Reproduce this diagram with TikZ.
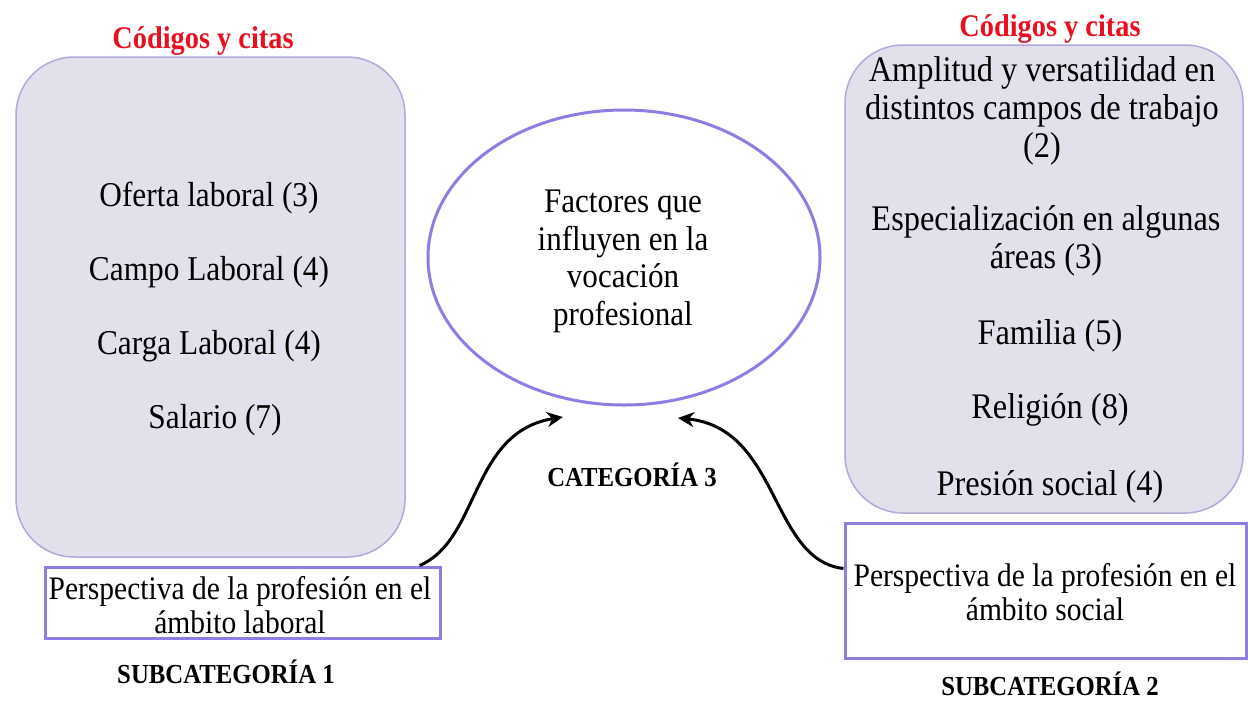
\documentclass[tikz,border=0pt]{standalone}
\usepackage{fontspec}
\setmainfont{Liberation Serif}[FakeStretch=0.9]
\usetikzlibrary{arrows.meta,shapes.geometric}
\definecolor{boxfill}{HTML}{E3E0EC}
\definecolor{boxline}{HTML}{B0A9DA}
\definecolor{framecol}{HTML}{8B7FE3}
\definecolor{titlered}{HTML}{E8101E}
\begin{document}
\begin{tikzpicture}[x=1pt,y=-1pt,
  codebox/.style={draw=boxline,fill=boxfill,line width=1.5pt,rounded corners=58pt,inner sep=0pt},
  subbox/.style={draw=framecol,fill=white,line width=3pt,inner sep=0pt},
  mainell/.style={ellipse,draw=framecol,line width=3pt,inner sep=0pt,minimum width=392pt,minimum height=295pt},
  item/.style={font=\fontsize{34.8}{38}\selectfont,align=center,inner sep=0pt},
  ritem/.style={font=\fontsize{36}{38}\selectfont,align=center,inner sep=0pt},
  subtxt/.style={font=\fontsize{32.8}{34}\selectfont,align=center,inner sep=0pt},
  redtitle/.style={font=\fontsize{31.5}{32}\selectfont\bfseries,text=titlered,inner sep=0pt},
  catlabel/.style={font=\fontsize{27.5}{30}\selectfont\bfseries,inner sep=0pt},
  arr/.style={-{Stealth[length=16pt,width=15pt]},line width=3pt,black}
]
\useasboundingbox (0,0) rectangle (1248,702);

% left code box
\node[codebox,minimum width=389pt,minimum height=500pt] (box1) at (210.5,307) {};
\node[redtitle] (title1) at (203,41) {Códigos y citas};
\node[item] (i1) at (209,198) {Oferta laboral (3)};
\node[item] (i2) at (209,272) {Campo Laboral (4)};
\node[item] (i3) at (209,346) {Carga Laboral (4)};
\node[item] (i4) at (215,420) {Salario (7)};

% right code box
\node[codebox,minimum width=398pt,minimum height=468pt] (box2) at (1044,279) {};
\node[redtitle] (title2) at (1050,29) {Códigos y citas};
\node[ritem] (j1) at (1042,111) {Amplitud y versatilidad en\\distintos campos de trabajo\\(2)};
\node[ritem] (j2) at (1046,241) {Especialización en algunas\\áreas (3)};
\node[ritem] (j3) at (1050,336) {Familia (5)};
\node[ritem] (j4) at (1050,410) {Religión (8)};
\node[ritem] (j5) at (1050,487) {Presión social (4)};

% central ellipse
\node[mainell] (cat) at (624,257.5) {};
\node[item,font=\fontsize{34.5}{37.7}\selectfont] (cattxt) at (623,261.5) {Factores que\\influyen en la\\vocación\\profesional};
\node[catlabel] (catlbl) at (632,475) {CATEGORÍA 3};

% subcategory boxes
\node[subbox,minimum width=395pt,minimum height=71pt] (sub1) at (242.5,602.5) {};
\node[subtxt] (sub1txt) at (240,605) {Perspectiva de la profesión en el\\ámbito laboral};
\node[catlabel] (sub1lbl) at (226,672) {SUBCATEGORÍA 1};

\node[subbox,minimum width=401pt,minimum height=135pt] (sub2) at (1045.5,590.5) {};
\node[subtxt] (sub2txt) at (1045,592) {Perspectiva de la profesión en el\\ámbito social};
\node[catlabel] (sub2lbl) at (1050,684) {SUBCATEGORÍA 2};

% arrows
\coordinate (tipL) at (563,417);
\coordinate (tipR) at (678,418);
\draw[arr] ([xshift=-22pt]sub1.north east) .. controls (480,540) and (470,432) .. (tipL);
\draw[arr] ([yshift=22pt]sub2.west) .. controls (770,560) and (780,428) .. (tipR);
\end{tikzpicture}
\end{document}
